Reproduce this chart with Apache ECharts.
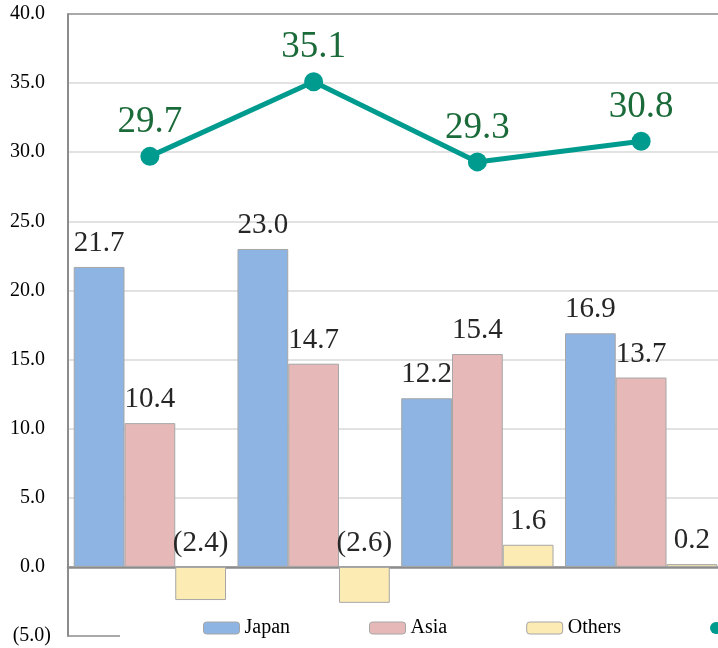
<!DOCTYPE html>
<html>
<head>
<meta charset="utf-8">
<script src="https://cdn.jsdelivr.net/npm/echarts@6/dist/echarts.min.js"></script>
<style>
  html, body { margin: 0; padding: 0; background: #fff; }
  #chart { width: 718px; height: 648px; }
</style>
</head>
<body>
<div id="chart"></div>
<script>
// Four reporting periods, three regional bar series plus one ratio line
const categories = ['FY1', 'FY2', 'FY3', 'FY4'];
const japan  = [21.7, 23.0, 12.2, 16.9];
const asia   = [10.4, 14.7, 15.4, 13.7];
const others = [-2.4, -2.6, 1.6, 0.2];
const ratio  = [29.7, 35.1, 29.3, 30.8];

const serif = 'Liberation Serif';

// accounting style: negatives in parentheses
function fmt(v) {
  const a = Math.abs(v).toFixed(1);
  return v < 0 ? '(' + a + ')' : a;
}

const barLabel = {
  show: true,
  position: 'top',
  distance: 9,
  fontFamily: serif,
  fontSize: 29,
  color: '#262626',
  formatter: p => fmt(p.value)
};

function barSeries(name, data, color) {
  return {
    name: name,
    type: 'bar',
    data: data,
    barGap: '0%',
    barCategoryGap: '7%',
    itemStyle: { color: color, borderColor: '#a6a6a6', borderWidth: 1 },
    label: barLabel,
    emphasis: { disabled: true }
  };
}

const chart = echarts.init(document.getElementById('chart'));
chart.setOption({
  animation: false,
  backgroundColor: '#fff',
  textStyle: { fontFamily: serif },
  grid: { left: 68, top: 14, width: 655, height: 622, outerBoundsMode: 'none', containLabel: false },
  legend: {
    left: 120,
    top: 613,
    width: 1200,
    padding: [5, 0, 6, 83],
    backgroundColor: '#fff',
    itemGap: 79,
    itemWidth: 36,
    itemHeight: 12,
    itemStyle: { borderColor: '#a6a6a6', borderWidth: 1 },
    textStyle: { fontFamily: serif, fontSize: 20, color: '#000' },
    // a little extra room after the last bar entry
    formatter: name => name === 'Others' ? name + '\u00a0\u00a0' : name,
    data: [
      { name: 'Japan' },
      { name: 'Asia' },
      { name: 'Others' },
      { name: 'Overseas ratio', icon: 'circle', itemStyle: { borderWidth: 0 } }
    ]
  },
  xAxis: {
    type: 'category',
    data: categories,
    axisLine: { onZero: true, lineStyle: { color: '#8c8c8c', width: 2.5 } },
    axisTick: { show: false },
    axisLabel: { show: false },
    splitLine: { show: false }
  },
  yAxis: {
    type: 'value',
    min: -5,
    max: 40,
    interval: 5,
    axisLine: { show: true, lineStyle: { color: '#8c8c8c', width: 2 } },
    axisTick: { show: false },
    splitLine: {
      show: true,
      lineStyle: {
        width: 1.5,
        color: ['#8c8c8c', '#d9d9d9', '#d9d9d9', '#d9d9d9', '#d9d9d9',
                '#d9d9d9', '#d9d9d9', '#d9d9d9', '#d9d9d9', '#8c8c8c']
      }
    },
    axisLabel: {
      margin: 17,
      fontFamily: serif,
      fontSize: 20,
      color: '#000',
      formatter: v => v < 0 ? fmt(v) : '{p|' + fmt(v) + '}',
      rich: { p: { fontFamily: serif, fontSize: 20, color: '#000', padding: [0, 6, 0, 0] } }
    }
  },
  series: [
    barSeries('Japan', japan, '#8eb4e3'),
    barSeries('Asia', asia, '#e6b9b8'),
    barSeries('Others', others, '#fcebb2'),
    {
      name: 'Overseas ratio',
      type: 'line',
      data: ratio,
      z: 5,
      symbol: 'circle',
      symbolSize: 19,
      lineStyle: { color: '#009b8f', width: 5 },
      itemStyle: { color: '#009b8f' },
      label: {
        show: true,
        position: 'top',
        distance: 6,
        fontFamily: serif,
        fontSize: 37,
        color: '#1b6b3a',
        formatter: p => fmt(p.value)
      },
      emphasis: { disabled: true }
    }
  ]
});
</script>
</body>
</html>
